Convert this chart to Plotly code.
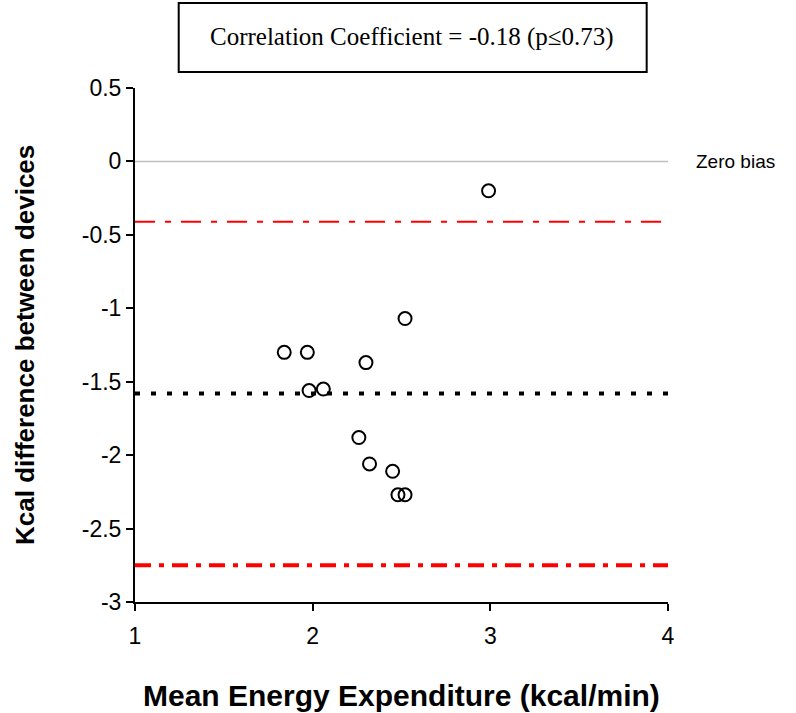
import plotly.graph_objects as go

# Data
mean_ee = [2.99, 2.52, 1.84, 1.97, 2.30, 1.98, 2.06, 2.26, 2.32, 2.45, 2.48, 2.52]
kcal_diff = [-0.20, -1.07, -1.30, -1.30, -1.37, -1.56, -1.55, -1.88, -2.06, -2.11, -2.27, -2.27]

x_range = [1, 4]
zero_bias = 0.0
mean_bias = -1.58
upper_loa = -0.41
lower_loa = -2.75

x_ticks = [1, 2, 3, 4]
y_ticks = [0.5, 0, -0.5, -1, -1.5, -2, -2.5, -3]
y_tick_text = ["0.5", "0", "-0.5", "-1", "-1.5", "-2", "-2.5", "-3"]

fig = go.Figure()

fig.add_trace(go.Scatter(x=x_range, y=[zero_bias, zero_bias], mode="lines",
                         line=dict(color="#c0c0c0", width=1.5), hoverinfo="skip"))
fig.add_trace(go.Scatter(x=x_range, y=[upper_loa, upper_loa], mode="lines",
                         line=dict(color="#ff0000", width=2, dash="20px,10px,6px,10px"),
                         hoverinfo="skip"))
fig.add_trace(go.Scatter(x=x_range, y=[lower_loa, lower_loa], mode="lines",
                         line=dict(color="#ff0000", width=4, dash="16px,8px,5px,8px"),
                         hoverinfo="skip"))
fig.add_trace(go.Scatter(x=x_range, y=[mean_bias, mean_bias], mode="lines",
                         line=dict(color="#000000", width=4, dash="5px,11px"),
                         hoverinfo="skip"))
fig.add_trace(go.Scatter(x=mean_ee, y=kcal_diff, mode="markers",
                         marker=dict(symbol="circle-open", size=13, color="black",
                                     line=dict(width=2, color="black"))))

axis_font = dict(family="Liberation Sans, Arial, sans-serif", size=23, color="black")

fig.update_layout(
    width=796, height=713,
    margin=dict(l=135, r=128, t=88, b=111),
    paper_bgcolor="white", plot_bgcolor="white",
    showlegend=False,
    xaxis=dict(range=x_range, tickvals=x_ticks, ticktext=[str(v) for v in x_ticks],
               showline=True, linecolor="black", linewidth=2,
               ticks="outside", ticklen=7, tickwidth=2, tickcolor="black",
               ticklabelstandoff=5,
               showgrid=False, zeroline=False, tickfont=axis_font),
    yaxis=dict(range=[-3, 0.5], tickvals=y_ticks, ticktext=y_tick_text,
               showline=True, linecolor="black", linewidth=2,
               ticks="outside", ticklen=7, tickwidth=2, tickcolor="black",
               showgrid=False, zeroline=False, tickfont=axis_font),
    shapes=[dict(type="rect", xref="paper", yref="paper",
                 x0=0.082, x1=0.96, y0=(602 - 72) / 514, y1=(602 - 3) / 514,
                 line=dict(color="black", width=2), fillcolor="rgba(0,0,0,0)")],
    annotations=[
        dict(text="Correlation Coefficient = -0.18 (p≤0.73)", xref="paper", yref="paper",
             x=0.52, y=(602 - 37) / 514, xanchor="center", yanchor="middle", showarrow=False,
             font=dict(family="Liberation Serif, Times New Roman, serif", size=25, color="black")),
        dict(text="Zero bias", xref="paper", yref="y", x=1, y=zero_bias, xanchor="left",
             yanchor="middle", xshift=26, showarrow=False,
             font=dict(family="Liberation Sans, Arial, sans-serif", size=19, color="black")),
        dict(text="<b>Mean Energy Expenditure (kcal/min)</b>", xref="paper", yref="paper",
             x=0.5, y=0, yshift=-93, xanchor="center", yanchor="middle", showarrow=False,
             font=dict(family="Liberation Sans, Arial, sans-serif", size=30, color="black")),
        dict(text="<b>Kcal difference between devices</b>", xref="paper", yref="paper",
             x=0, y=0.5, xshift=-110, xanchor="center", yanchor="middle", textangle=-90,
             showarrow=False,
             font=dict(family="Liberation Sans, Arial, sans-serif", size=26, color="black")),
    ],
)

fig.write_html("out.html")
